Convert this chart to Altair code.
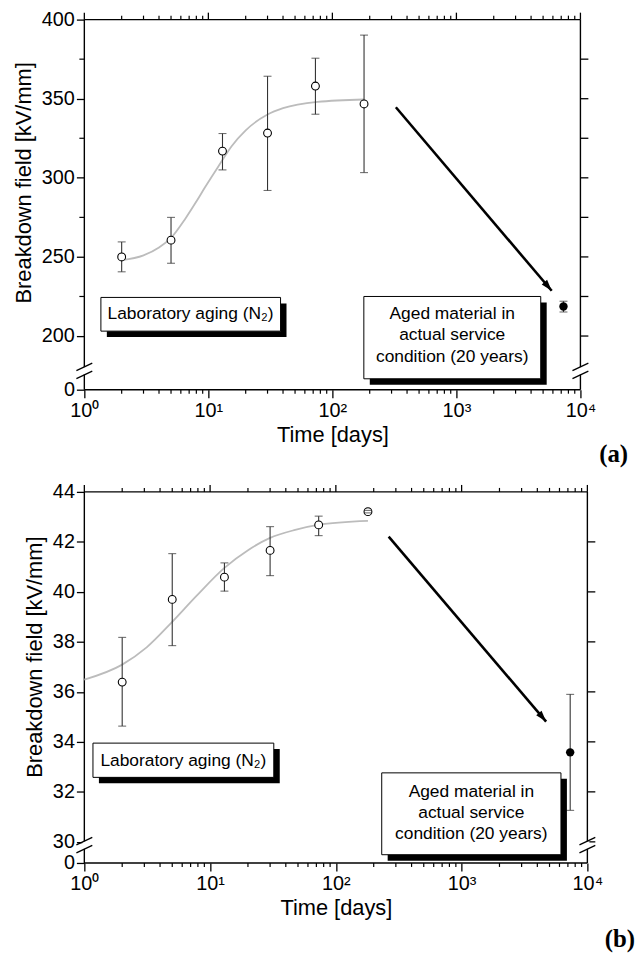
import altair as alt
import pandas as pd

FONT = "Liberation Sans"
INK = "#000000"
BAR = "#333333"
FIT = "#bcbcbc"

# ---------------- panel (a) ----------------
a_days = [2, 5, 13, 30, 73, 180]
a_field = [250.0, 260.6, 316.9, 328.3, 358.0, 346.7]
a_hi = [259.5, 275.0, 328.0, 364.2, 375.6, 390.2]
a_lo = [240.6, 246.0, 305.0, 292.0, 340.2, 303.3]
a_srv_day = [7300]
a_srv_field = [218.7]
a_srv_hi = [222.0]
a_srv_lo = [215.2]
a_fit_days = [2, 3, 4, 5, 6.5, 8, 9.4, 12, 15.4, 20, 30, 40, 76, 180]
a_fit_field = [248, 251, 256, 262, 274, 285, 294, 307, 320, 330, 340, 344, 348, 349.5]
a_arrow_days = [325, 5865]
a_arrow_field = [344.6, 228.6]
a_yticks = [0, 200, 250, 300, 350, 400]
a_yminor = [225, 275, 325, 375]
a_yright = [200, 225, 250, 275, 300, 325, 350, 375]
a_ydomain = [0, 178, 400]
a_lab_box_days = [1.36, 38.2]
a_lab_box_field = [224.4, 203.1]
a_lab_text_at = [7.18, 213.75]
a_aged_box_days = [179.3, 4786]
a_aged_box_field = [225.0, 103.0]
a_aged_text_day = 925
a_aged_text_field = [213.6, 200.4, 186.9]

# ---------------- panel (b) ----------------
b_days = [2, 5, 13, 30, 73, 180]
b_field = [36.39, 39.70, 40.59, 41.66, 42.68, 43.21]
b_hi = [38.18, 41.53, 41.16, 42.61, 43.03, 43.26]
b_lo = [34.63, 37.85, 40.03, 40.65, 42.25, 43.16]
b_srv_day = [7300]
b_srv_field = [33.58]
b_srv_hi = [35.90]
b_srv_lo = [31.26]
b_fit_days = [1, 2, 3.13, 4.93, 7.76, 13, 20.3, 29.7, 47.5, 72, 180]
b_fit_field = [36.49, 37.09, 37.78, 38.77, 39.83, 40.96, 41.69, 42.15, 42.48, 42.68, 42.84]
b_arrow_days = [263, 4700]
b_arrow_field = [42.21, 34.81]
b_yticks = [0, 30, 32, 34, 36, 38, 40, 42, 44]
b_yminor = []
b_yright = [30, 32, 34, 36, 38, 40, 42]
b_ydomain = [0, 29.87, 44]
b_lab_box_days = [1.171, 32.1]
b_lab_box_field = [33.95, 32.58]
b_lab_text_at = [6.13, 33.25]
b_aged_box_days = [231.6, 6165]
b_aged_box_field = [32.76, 13.8]
b_aged_text_day = 1195
b_aged_text_field = [32.0, 31.17, 30.31]

x_major = [1, 10, 100, 1000, 10000]
x_minor = [m * 10 ** k for k in range(4) for m in range(2, 10)]
lab_text = "Laboratory aging (N\u2082)"
aged_lines = ["Aged material in", "actual service", "condition (20 years)"]

ARROW_PATH = "M0,0L-0.62,2L0.62,2Z"


def panel(days, field, hi, lo, sdays, sfield, shi, slo, fdays, ffield,
          adays, afield, yticks, yminor, yright, ydomain, yrange,
          labx, laby, labt, agedx, agedy, agedtx, agedty,
          W, H, tag, title_y, tag_offset):
    xs = alt.Scale(type="log", domain=[1, 10000], nice=False)
    ys = alt.Scale(domain=ydomain, range=yrange, nice=False, zero=False)
    ytop = ydomain[-1]
    brk = ydomain[1]

    xaxis = alt.Axis(
        values=x_major, title="Time [days]", tickSize=8, tickWidth=1.3,
        labelExpr="'10' + ['\u2070','\u00b9','\u00b2','\u00b3','\u2074'][round(log(datum.value)/LN10)]",
        labelFlush=False, labelPadding=3, titlePadding=4, labelOverlap=False)
    yaxis = alt.Axis(
        values=yticks, title="Breakdown field [kV/mm]", tickSize=8, tickWidth=1.3,
        labelPadding=2, titlePadding=6, labelOverlap=False, titleY=title_y)

    def X(f):
        return alt.X(f, type="quantitative", scale=xs, axis=xaxis)

    def Y(f):
        return alt.Y(f, type="quantitative", scale=ys, axis=yaxis)

    pts = pd.DataFrame({"d": days, "f": field, "hi": hi, "lo": lo})
    srv = pd.DataFrame({"d": sdays, "f": sfield, "hi": shi, "lo": slo})
    allbars = pd.concat([pts, srv])
    caps = pd.DataFrame({"d": list(allbars["d"]) * 2,
                         "v": list(allbars["hi"]) + list(allbars["lo"])})
    fit = pd.DataFrame({"d": fdays, "f": ffield})
    arrow = pd.DataFrame({"d": [adays[0]], "f": [afield[0]],
                          "d2": [adays[1]], "f2": [afield[1]]})
    head = pd.DataFrame({"d": [adays[1]], "f": [afield[1]]})

    # frame
    frame_df = pd.DataFrame({
        "d": [1, 10000, 1, 1], "d2": [1, 10000, 10000, 10000],
        "f": [0, 0, 0, ytop], "f2": [ytop, ytop, 0, ytop]})
    base_axes = alt.Chart(frame_df).mark_rule(color=INK, strokeWidth=1.4).encode(
        x=X("d"), x2="d2:Q", y=Y("f"), y2="f2:Q")

    top_major = alt.Chart(pd.DataFrame({"t": x_major})).mark_rule(color=INK, strokeWidth=1.3).encode(
        x=X("t"), y=alt.value(0), y2=alt.value(-7))
    top_minor = alt.Chart(pd.DataFrame({"t": x_minor})).mark_rule(color=INK, strokeWidth=1.2).encode(
        x=X("t"), y=alt.value(0), y2=alt.value(-4))
    bot_minor = alt.Chart(pd.DataFrame({"t": x_minor})).mark_rule(color=INK, strokeWidth=1.2).encode(
        x=X("t"), y=alt.value(H), y2=alt.value(H + 4))
    right_t = alt.Chart(pd.DataFrame({"t": yright})).mark_rule(color=INK, strokeWidth=1.3).encode(
        y=Y("t"), x=alt.value(W), x2=alt.value(W + 8))
    layers = [base_axes, top_major, top_minor, bot_minor, right_t]
    if yminor:
        left_minor = alt.Chart(pd.DataFrame({"t": yminor})).mark_rule(color=INK, strokeWidth=1.2).encode(
            y=Y("t"), x=alt.value(0), x2=alt.value(-5))
        layers.append(left_minor)

    # axis breaks
    brk_df = pd.DataFrame({"d": [1, 10000], "f": [brk, brk]})
    gap = alt.Chart(brk_df).mark_rule(color="white", strokeWidth=4, yOffset=-3.8, y2Offset=3.8).encode(
        x=X("d"), y=Y("f"), y2="f:Q")
    slash1 = alt.Chart(brk_df).mark_rule(color=INK, strokeWidth=1.3, xOffset=-8, x2Offset=8,
                                         yOffset=-0.3, y2Offset=-7.8).encode(
        x=X("d"), x2="d:Q", y=Y("f"), y2="f:Q")
    slash2 = alt.Chart(brk_df).mark_rule(color=INK, strokeWidth=1.3, xOffset=-8, x2Offset=8,
                                         yOffset=7.8, y2Offset=0.3).encode(
        x=X("d"), x2="d:Q", y=Y("f"), y2="f:Q")
    layers += [gap, slash1, slash2]

    # fit curve
    fit_line = alt.Chart(fit).mark_line(color=FIT, strokeWidth=1.8, interpolate="monotone").encode(
        x=X("d"), y=Y("f"))
    bars = alt.Chart(allbars).mark_rule(color=BAR, strokeWidth=1.1).encode(
        x=X("d"), y=Y("lo"), y2="hi:Q")
    open_pts = alt.Chart(pts).mark_point(shape="circle", filled=True, fill="white", stroke=INK,
                                         strokeWidth=1.1, size=62, opacity=1).encode(
        x=X("d"), y=Y("f"))
    srv_pt = alt.Chart(srv).mark_point(shape="circle", filled=True, color=INK, size=72, opacity=1).encode(
        x=X("d"), y=Y("f"))
    cap_marks = alt.Chart(caps).mark_tick(orient="horizontal", size=8, thickness=1.1, color=BAR).encode(
        x=X("d"), y=Y("v"))
    layers += [fit_line, bars, open_pts, srv_pt, cap_marks]

    # arrow
    arr_line = alt.Chart(arrow).mark_rule(color=INK, strokeWidth=2.6).encode(
        x=X("d"), y=Y("f"), x2="d2:Q", y2="f2:Q")
    arr_head = alt.Chart(head).mark_point(shape=ARROW_PATH, filled=True, color=INK, size=130,
                                          angle=140, opacity=1).encode(
        x=X("d"), y=Y("f"))
    layers += [arr_line, arr_head]

    # annotation boxes
    def box(bx, by, lines_x, lines_y, lines):
        bdf = pd.DataFrame({"d": [bx[0]], "d2": [bx[1]], "f": [by[0]], "f2": [by[1]]})
        shadow = alt.Chart(bdf).mark_rect(fill=INK, xOffset=6, x2Offset=6, yOffset=6, y2Offset=6).encode(
            x=X("d"), x2="d2:Q", y=Y("f"), y2="f2:Q")
        frame = alt.Chart(bdf).mark_rect(fill="white", stroke=INK, strokeWidth=1).encode(
            x=X("d"), x2="d2:Q", y=Y("f"), y2="f2:Q")
        tdf = pd.DataFrame({"d": [lines_x] * len(lines), "f": lines_y, "t": lines})
        txt = alt.Chart(tdf).mark_text(font=FONT, fontSize=17.5, color=INK, align="center",
                                       baseline="middle").encode(
            x=X("d"), y=Y("f"), text="t:N")
        return [shadow, frame, txt]

    layers += box(labx, laby, labt[0], [labt[1]], [lab_text])
    layers += box(agedx, agedy, agedtx, agedty, aged_lines)

    return alt.layer(*layers).properties(
        width=W, height=H,
        title=alt.TitleParams(text=tag, orient="bottom", anchor="end", frame="group",
                              font="Liberation Serif", fontSize=25, fontWeight="bold",
                              color=INK, dx=48, offset=tag_offset))


pa = panel(a_days, a_field, a_hi, a_lo, a_srv_day, a_srv_field, a_srv_hi, a_srv_lo,
           a_fit_days, a_fit_field, a_arrow_days, a_arrow_field,
           a_yticks, a_yminor, a_yright, a_ydomain, [373, 354, 0],
           a_lab_box_days, a_lab_box_field, a_lab_text_at,
           a_aged_box_days, a_aged_box_field, a_aged_text_day, a_aged_text_field,
           500, 373, "(a)", 164, -3)
pb = panel(b_days, b_field, b_hi, b_lo, b_srv_day, b_srv_field, b_srv_hi, b_srv_lo,
           b_fit_days, b_fit_field, b_arrow_days, b_arrow_field,
           b_yticks, b_yminor, b_yright, b_ydomain, [374, 356, 0],
           b_lab_box_days, b_lab_box_field, b_lab_text_at,
           b_aged_box_days, b_aged_box_field, b_aged_text_day, b_aged_text_field,
           507, 374, "(b)", 166, 9)

chart = alt.vconcat(pa, pb, spacing=15).properties(
    padding={"left": 12, "top": 6, "right": 0, "bottom": 0}
).configure_view(stroke=None).configure_axis(
    labelFont=FONT, labelFontSize=20, labelColor=INK,
    titleFont=FONT, titleFontSize=22, titleFontWeight="normal", titleColor=INK,
    tickColor=INK, domain=False, grid=False
)

chart.save("out.html", embed_options={"renderer": "svg", "actions": False})
